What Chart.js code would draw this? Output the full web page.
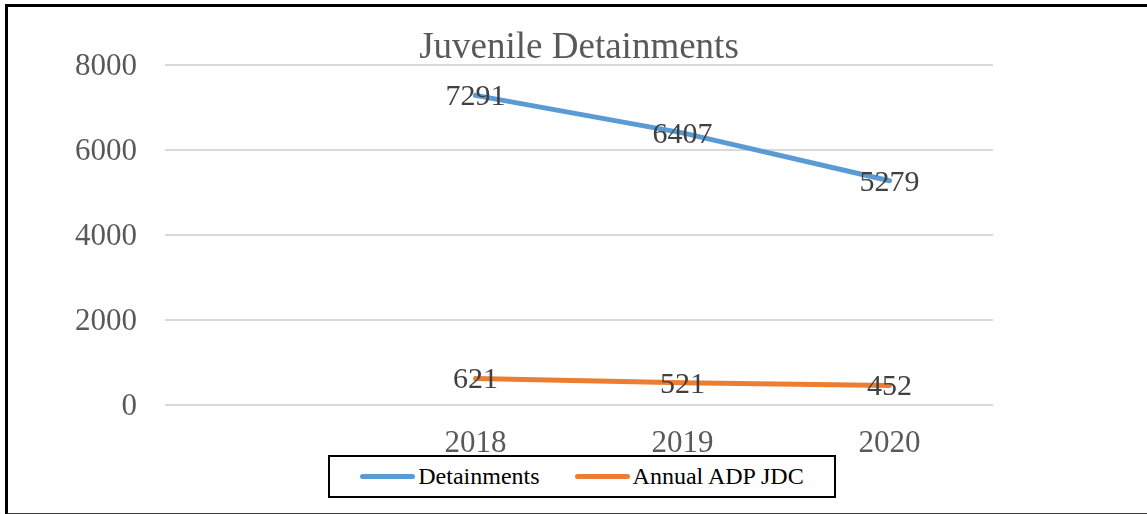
<!DOCTYPE html>
<html>
<head>
<meta charset="utf-8">
<script src="https://cdn.jsdelivr.net/npm/chart.js@4"></script>
<style>
  html, body { margin: 0; padding: 0; background: #fff; overflow: hidden; }
  #wrap { position: relative; width: 1147px; height: 514px; }
  #frame {
    position: absolute; left: 5px; top: 4px; width: 1160px; height: 506px;
    border-top: 3px solid #000; border-left: 3px solid #000; border-bottom: 2px solid #3a3a3a;
    pointer-events: none;
  }
  #legend {
    position: absolute; left: 328px; top: 455px; width: 508px; height: 43px;
    box-sizing: border-box; border: 2px solid #000; background: #fff;
    display: flex; align-items: center; justify-content: center;
    font-family: "Liberation Serif", "Times New Roman", serif; font-size: 24px; color: #000;
  }
  #legend .item { display: flex; align-items: center; }
  #legend .item + .item { margin-left: 35px; }
  #legend .swatch { width: 55px; height: 5px; border-radius: 3px; margin-right: 3px; }
</style>
</head>
<body>
<div id="wrap">
  <canvas id="chart"></canvas>
  <div id="legend"></div>
  <div id="frame"></div>
</div>
<script>
// 少年拘留の推移（参照画像から読み取った値）
const years = ["", "2018", "2019", "2020"];
const detainments = [null, 7291, 6407, 5279];
const annualAdp = [null, 621, 521, 452];
const yTicks = [0, 2000, 4000, 6000, 8000];

const SERIF = "'Liberation Serif', 'Times New Roman', serif";
const COLORS = {
  blue: "#5b9bd5",
  orange: "#ed7d31",
  axis: "#595959",
  label: "#404040",
  grid: "#d9d9d9",
};

Chart.defaults.font.family = SERIF;

// 各点の上に値を中央揃えで描く
const pointLabels = {
  id: "pointLabels",
  afterDatasetsDraw(chart) {
    const { ctx } = chart;
    ctx.save();
    ctx.font = `30px ${SERIF}`;
    ctx.fillStyle = COLORS.label;
    ctx.textAlign = "center";
    ctx.textBaseline = "middle";
    chart.data.datasets.forEach((ds, i) => {
      chart.getDatasetMeta(i).data.forEach((pt, j) => {
        const v = ds.data[j];
        if (v == null) return;
        ctx.fillText(String(v), pt.x, pt.y + 2);
      });
    });
    ctx.restore();
  },
};

function lineSet(label, data, color) {
  return {
    label,
    data,
    borderColor: color,
    backgroundColor: color,
    borderWidth: 5,
    borderCapStyle: "round",
    borderJoinStyle: "round",
    pointRadius: 0,
    tension: 0,
  };
}

const chart = new Chart(document.getElementById("chart"), {
  type: "line",
  data: {
    labels: years,
    datasets: [
      lineSet("Detainments", detainments, COLORS.blue),
      lineSet("Annual ADP JDC", annualAdp, COLORS.orange),
    ],
  },
  options: {
    responsive: true,
    maintainAspectRatio: false,
    animation: false,
    layout: { padding: { left: 0, right: 154, top: 0, bottom: 32 } },
    plugins: {
      legend: { display: false },
      tooltip: { enabled: false },
      title: {
        display: true,
        fullSize: false,
        text: "Juvenile Detainments",
        color: COLORS.axis,
        font: { size: 37, weight: "normal", lineHeight: 0.9 },
        padding: { top: 32, bottom: 0 },
      },
    },
    scales: {
      x: {
        offset: true,
        grid: { display: false, drawTicks: false },
        border: { display: false },
        ticks: { color: COLORS.axis, font: { size: 31 }, padding: 20, maxRotation: 0 },
      },
      y: {
        min: 0,
        max: 8000,
        afterFit: (s) => { s.width = 165; },
        afterBuildTicks: (s) => { s.ticks = yTicks.map((v) => ({ value: v })); },
        grid: { color: COLORS.grid, lineWidth: 2, drawTicks: false },
        border: { display: false },
        ticks: { color: COLORS.axis, font: { size: 31 }, padding: 28, labelOffset: 2, callback: (v) => String(v) },
      },
    },
  },
  plugins: [pointLabels],
});

document.getElementById("legend").innerHTML = chart.data.datasets.map((ds) => `
  <div class="item"><span class="swatch" style="background:${ds.borderColor}"></span>${ds.label}</div>`).join("");
</script>
</body>
</html>
